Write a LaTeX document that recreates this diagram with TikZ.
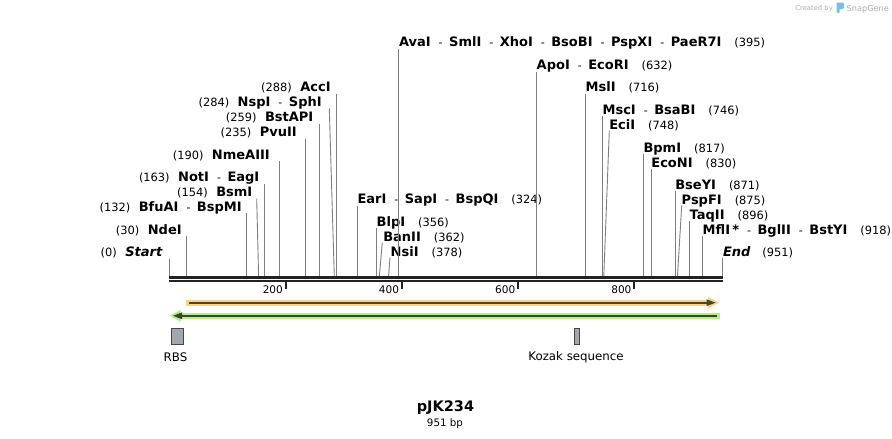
\documentclass[tikz,border=0pt]{standalone}
\usepackage{fontspec}
\setmainfont{DejaVu Sans}
\definecolor{sitegray}{RGB}{128,128,128}
\definecolor{bbone}{RGB}{34,34,34}
\definecolor{orhalo}{RGB}{252,211,131}
\definecolor{ordark}{RGB}{74,66,52}
\definecolor{grhalo}{RGB}{180,240,130}
\definecolor{grdark}{RGB}{58,68,48}
\definecolor{featfill}{RGB}{162,166,175}
\definecolor{featdraw}{RGB}{70,70,70}
\definecolor{credgray}{RGB}{175,175,175}
\definecolor{snapblue}{RGB}{120,190,235}
\newcommand{\nm}[1]{{\fontsize{13}{13}\selectfont\bfseries #1}}
\newcommand{\pn}[1]{{\fontsize{11.4}{12}\selectfont #1}}
\newcommand{\sepd}{\kern8pt{\fontsize{11}{11}\selectfont -}\kern6.5pt}
\newcommand{\gl}{\kern8.5pt}
\newcommand{\gr}{\kern13pt}
\begin{document}
\begin{tikzpicture}[x=1pt,y=-1pt,
  lblL/.style={anchor=base east, inner sep=0pt, outer sep=0pt},
  lblR/.style={anchor=base west, inner sep=0pt, outer sep=0pt},
  site/.style={draw=sitegray, line width=0.9pt},
  feat/.style={fill=featfill, draw=featdraw, line width=1pt},
  ftxt/.style={font=\fontsize{11.8}{12}\selectfont, inner sep=0pt},
  ticklbl/.style={anchor=base east, inner sep=0pt, font=\fontsize{10.5}{11}\selectfont}]
\useasboundingbox (0,0) rectangle (892,439);
\fill[white] (0,0) rectangle (892,439);

% credit
\node[anchor=base east, inner sep=0pt, text=credgray, font=\fontsize{6.8}{8}\selectfont] (cred) at (833,10) {Created by};
\fill[snapblue, rounded corners=1pt] (836.5,2.5) rectangle (839.5,13);
\fill[snapblue, rounded corners=1.5pt] (838,2.5) rectangle (844,9);
\node[anchor=base west, inner sep=0pt, text=credgray, font=\fontsize{8.2}{9}\selectfont] (snap) at (846.5,11) {SnapGene};

% backbone
\draw[bbone, line width=2.5pt] (169,277.3) -- (722.5,277.3);
\draw[bbone, line width=2.5pt] (169,281.2) -- (722.5,281.2);

% ticks
\foreach \p/\t in {285.5/200, 401.7/400, 517.9/600, 634.1/800}{
  \draw[bbone, line width=2pt] (\p,282) -- (\p,288.5);
  \node[ticklbl] at (\p-2.5,293.5) {\t};
}

% ---- left labels
\coordinate (s0) at (169.3,276);
\node[lblL] (l0) at (162.3,256.7) {\pn{(0)}\gl\nm{\itshape Start}};
\coordinate (t0) at (169.3,258.5);
\draw[site] (t0) -- (s0);

\coordinate (s30) at (186.7,276);
\node[lblL] (l30) at (181.7,234.3) {\pn{(30)}\gl\nm{NdeI}};
\coordinate (t30) at (186.7,236);
\draw[site] (t30) -- (s30);

\coordinate (s132) at (246.3,276);
\node[lblL] (l132) at (241.7,211.3) {\pn{(132)}\gl\nm{BfuAI}\sepd\nm{BspMI}};
\coordinate (t132) at (246.3,213);
\draw[site] (t132) -- (s132);

\coordinate (s154) at (258.6,276);
\node[lblL] (l154) at (252.3,196.7) {\pn{(154)}\gl\nm{BsmI}};
\coordinate (t154) at (256.7,198.5);
\draw[site] (t154) -- (s154);

\coordinate (s163) at (264.1,276);
\node[lblL] (l163) at (259.3,181.7) {\pn{(163)}\gl\nm{NotI}\sepd\nm{EagI}};
\coordinate (t163) at (264.1,183.5);
\draw[site] (t163) -- (s163);

\coordinate (s190) at (279.8,276);
\node[lblL] (l190) at (269.8,159) {\pn{(190)}\gl\nm{NmeAIII}};
\coordinate (t190) at (279.8,160.5);
\draw[site] (t190) -- (s190);

\coordinate (s235) at (305.8,276);
\node[lblL] (l235) at (296.7,136.7) {\pn{(235)}\gl\nm{PvuII}};
\coordinate (t235) at (305.8,138.5);
\draw[site] (t235) -- (s235);

\coordinate (s259) at (319.6,276);
\node[lblL] (l259) at (313.3,121.7) {\pn{(259)}\gl\nm{BstAPI}};
\coordinate (t259) at (319.6,123.5);
\draw[site] (t259) -- (s259);

\coordinate (s284) at (334.3,276);
\node[lblL] (l284) at (321.7,106.7) {\pn{(284)}\gl\nm{NspI}\sepd\nm{SphI}};
\coordinate (t284) at (329.3,108.5);
\draw[site] (t284) -- (s284);

\coordinate (s288) at (336.7,276);
\node[lblL] (l288) at (330.7,91.7) {\pn{(288)}\gl\nm{AccI}};
\coordinate (t288) at (336.7,93.5);
\draw[site] (t288) -- (s288);

% ---- middle labels
\coordinate (s324) at (357.5,276);
\node[lblR] (l324) at (357.5,203.7) {\nm{EarI}\sepd\nm{SapI}\sepd\nm{BspQI}\gr\pn{(324)}};
\coordinate (t324) at (357.5,205.5);
\draw[site] (t324) -- (s324);

\coordinate (s356) at (376.4,276);
\node[lblR] (l356) at (376.7,226) {\nm{BlpI}\gr\pn{(356)}};
\coordinate (t356) at (376.4,227.5);
\draw[site] (t356) -- (s356);

\coordinate (s362) at (379.4,276);
\node[lblR] (l362) at (383.3,241) {\nm{BanII}\gr\pn{(362)}};
\coordinate (t362) at (382.3,242.5);
\draw[site] (t362) -- (s362);

\coordinate (s378) at (388.6,276);
\node[lblR] (l378) at (390.7,256) {\nm{NsiI}\gr\pn{(378)}};
\coordinate (t378) at (390,257.5);
\draw[site] (t378) -- (s378);

% ---- right labels
\coordinate (s395) at (398.6,276);
\node[lblR] (l395) at (399,46.7) {\nm{AvaI}\sepd\nm{SmlI}\sepd\nm{XhoI}\sepd\nm{BsoBI}\sepd\nm{PspXI}\sepd\nm{PaeR7I}\gr\pn{(395)}};
\coordinate (t395) at (398.6,49);
\draw[site] (t395) -- (s395);

\coordinate (s632) at (536.3,276);
\node[lblR] (l632) at (536.7,69) {\nm{ApoI}\sepd\nm{EcoRI}\gr\pn{(632)}};
\coordinate (t632) at (536.3,72);
\draw[site] (t632) -- (s632);

\coordinate (s716) at (585.3,276);
\node[lblR] (l716) at (585.7,91.7) {\nm{MslI}\gr\pn{(716)}};
\coordinate (t716) at (585.3,93.5);
\draw[site] (t716) -- (s716);

\coordinate (s746) at (602.6,276);
\node[lblR] (l746) at (602.6,114) {\nm{MscI}\sepd\nm{BsaBI}\gr\pn{(746)}};
\coordinate (t746) at (602.6,116);
\draw[site] (t746) -- (s746);

\coordinate (s748) at (603.8,276);
\node[lblR] (l748) at (609.3,129) {\nm{EciI}\gr\pn{(748)}};
\coordinate (t748) at (609.3,130.5);
\draw[site] (t748) -- (s748);

\coordinate (s817) at (643.8,276);
\node[lblR] (l817) at (643.5,152) {\nm{BpmI}\gr\pn{(817)}};
\coordinate (t817) at (643.8,153.5);
\draw[site] (t817) -- (s817);

\coordinate (s830) at (651.4,276);
\node[lblR] (l830) at (651.4,167) {\nm{EcoNI}\gr\pn{(830)}};
\coordinate (t830) at (651.4,168.5);
\draw[site] (t830) -- (s830);

\coordinate (s871) at (675.3,276);
\node[lblR] (l871) at (675.3,189) {\nm{BseYI}\gr\pn{(871)}};
\coordinate (t871) at (675.3,190.5);
\draw[site] (t871) -- (s871);

\coordinate (s875) at (677.5,276);
\node[lblR] (l875) at (681.7,204) {\nm{PspFI}\gr\pn{(875)}};
\coordinate (t875) at (681.7,205.5);
\draw[site] (t875) -- (s875);

\coordinate (s896) at (689.7,276);
\node[lblR] (l896) at (689.7,219) {\nm{TaqII}\gr\pn{(896)}};
\coordinate (t896) at (689.7,220.5);
\draw[site] (t896) -- (s896);

\coordinate (s918) at (702.7,276);
\node[lblR] (l918) at (702.7,234) {\nm{MflI\,*}\sepd\nm{BglII}\sepd\nm{BstYI}\gr\pn{(918)}};
\coordinate (t918) at (702.7,235.5);
\draw[site] (t918) -- (s918);

\coordinate (s951) at (722,276);
\node[lblR] (l951) at (723,256.5) {\nm{\itshape End}\kern12pt\pn{(951)}};
\coordinate (t951) at (722,258);
\draw[site] (t951) -- (s951);

% ---- features: forward ORF (orange)
\fill[orhalo] (186,299.7) rectangle (711,305.7);
\fill[orhalo] (708,296.8) -- (718.8,302.7) -- (708,308.6) -- cycle;
\draw[ordark, line width=2pt] (188.5,302.7) -- (710,302.7);
\fill[ordark] (706.5,299.3) -- (715.5,302.7) -- (706.5,306.1) -- cycle;

% reverse (green)
\fill[grhalo] (179,312.8) rectangle (719.5,318.8);
\fill[grhalo] (180.5,309.9) -- (169.7,315.8) -- (180.5,321.7) -- cycle;
\draw[grdark, line width=2pt] (181,315.8) -- (716.8,315.8);
\fill[grdark] (182,312.4) -- (173,315.8) -- (182,319.2) -- cycle;

% boxes
\node[feat, minimum width=12pt, minimum height=16pt, inner sep=0pt] (rbs) at (177,336.5) {};
\node[ftxt] (rbsl) at (175.5,357) {RBS};
\node[feat, minimum width=5.5pt, minimum height=16pt, inner sep=0pt] (koz) at (577,336.5) {};
\node[ftxt] (kozl) at (576,357) {Kozak sequence};

% title
\node[inner sep=0pt, font=\fontsize{14.5}{15}\selectfont\bfseries] (title) at (445.5,408) {pJK234};
\node[inner sep=0pt, font=\fontsize{10.3}{11}\selectfont] (bp) at (445,423.5) {951 bp};
\end{tikzpicture}
\end{document}
